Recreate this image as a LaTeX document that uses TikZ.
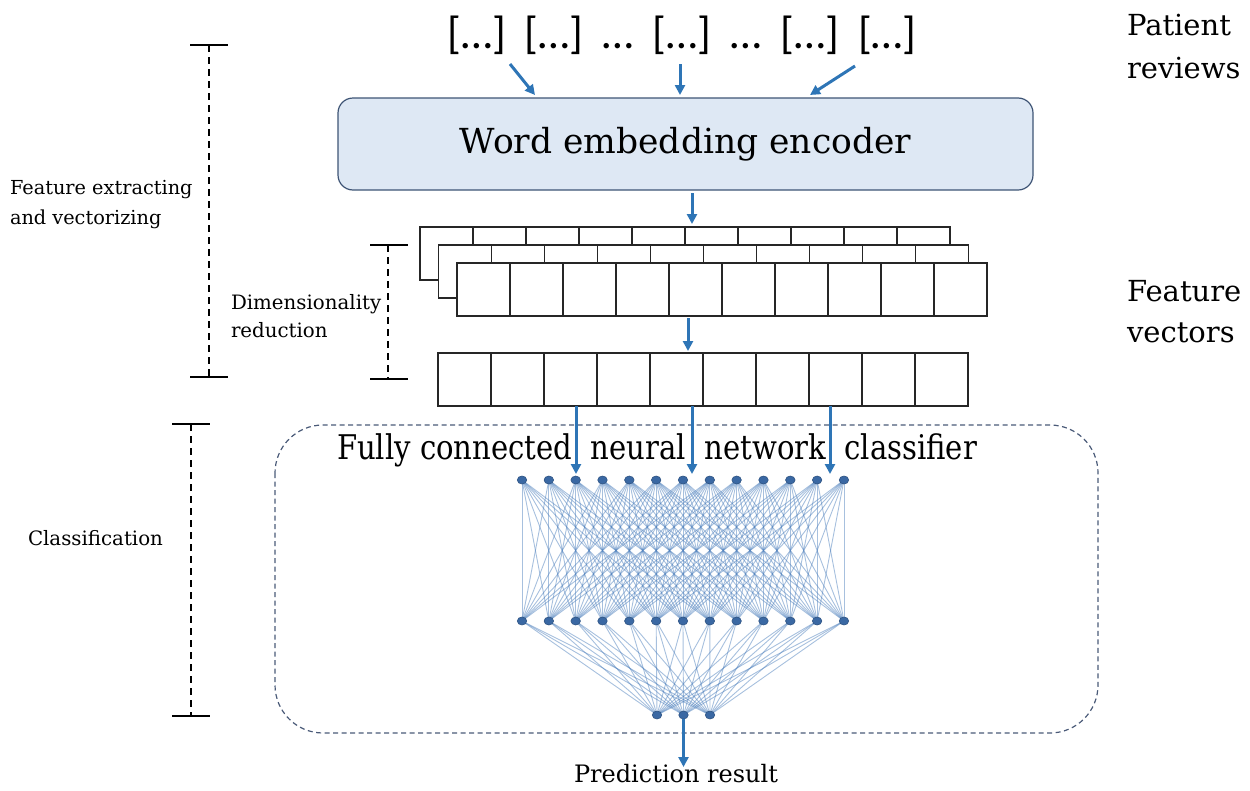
\documentclass[tikz,border=0pt]{standalone}
\usepackage{fontspec}
\newfontfamily\txt{DejaVu Serif}
\newfontfamily\brk{Carlito}
\usetikzlibrary{arrows.meta,shapes.geometric}
\pgfdeclarelayer{background}
\pgfsetlayers{background,main}

\definecolor{flowblue}{HTML}{2E75B6}
\definecolor{encfill}{HTML}{DEE8F4}
\definecolor{encdraw}{HTML}{3E5475}
\definecolor{frame}{HTML}{4A5A78}
\definecolor{netline}{HTML}{4F81BD}
\definecolor{netnode}{HTML}{3A68A3}

\tikzset{
  flow/.style={draw=flowblue, line width=3pt, -{Triangle[length=10pt,width=10pt]}},
  cell/.style={draw=black!85, line width=1.4pt, fill=white, minimum width=53pt,
               minimum height=53pt, inner sep=0pt, outer sep=0pt},
  label/.style={inner sep=0pt, outer sep=0pt, align=left, anchor=west},
  span/.style={line width=1.8pt, dash pattern=on 7pt off 5pt},
  tick/.style={line width=2pt},
  neuron/.style={ellipse, fill=netnode, draw=netnode!80!black, line width=.6pt,
                 minimum width=9.5pt, minimum height=8pt, inner sep=0pt},
  edge/.style={draw=netline, opacity=.5, line width=.9pt}
}
\newcommand{\grp}{\hskip 19pt}

\begin{document}
\begin{tikzpicture}[x=1pt,y=-1pt]
\useasboundingbox (0,0) rectangle (1250,790);

% ---- input reviews ----
\node[inner sep=0pt, font={\brk\fontsize{45}{50}\selectfont}] (reviews) at (682,35)
  {[…]\grp[…]\grp…\grp[…]\grp…\grp[…]\grp[…]};
\node[label, font={\txt\fontsize{29}{43}\selectfont}] (revlab) at (1127,47)
  {Patient\\reviews};

% ---- encoder ----
\node[draw=encdraw, fill=encfill, line width=1.2pt, rounded corners=15pt,
      minimum width=695pt, minimum height=92pt, inner sep=0pt,
      font={\txt\fontsize{34.5}{40}\selectfont}] (enc) at (685.5,144)
  {Word embedding encoder};

\coordinate (r1) at (510,64);  \coordinate (e1) at (535,95);
\coordinate (r2) at (680,64);  \coordinate (e2) at (680,95);
\coordinate (r3) at (855,66);  \coordinate (e3) at (810,95);
\draw[flow] (r1) -- (e1);
\draw[flow] (r2) -- (e2);
\draw[flow] (r3) -- (e3);

% ---- stacked feature maps ----
\foreach \l/\xo/\yo in {a/420/227, b/438.5/245, c/457/263}{
  \foreach \i in {1,...,10}{
    \node[cell] (\l\i) at ({\xo+53*(\i-0.5)},{\yo+26.5}) {};
  }
}
\coordinate (encout) at (692,193);
\coordinate (stackin) at (692,224);
\draw[flow] (encout) -- (stackin);

\node[label, font={\txt\fontsize{29}{41}\selectfont}] (featlab) at (1127,312)
  {Feature\\vectors};

% ---- reduced vector ----
\foreach \i in {1,...,10}{
  \node[cell] (v\i) at ({438+53*(\i-0.5)},379.5) {};
}
\coordinate (stackout) at (688,318);
\coordinate (vecin) at (688,351);
\draw[flow] (stackout) -- (vecin);

% ---- classifier frame ----
\draw[frame, line width=1.2pt, dash pattern=on 5pt off 3.5pt, rounded corners=48pt]
  (275,425) rectangle (1098,733);
\node[inner sep=0pt, font={\txt\fontsize{34}{40}\selectfont}] (fctitle) at (657,450)
  {\scalebox{0.855}[1]{Fully connected\ \ neural\ \ network\ \ classifier}};

% ---- network ----
\foreach \i in {0,...,12}{
  \node[neuron] (t\i) at ({522+26.83*\i},480) {};
  \node[neuron] (m\i) at ({522+26.83*\i},621) {};
}
\node[neuron] (o0) at (657,715) {};
\node[neuron] (o1) at (683.5,715) {};
\node[neuron] (o2) at (710,715) {};

\begin{pgfonlayer}{background}
\foreach \i in {0,...,12}{
  \foreach \j in {0,...,12}{
    \pgfmathtruncatemacro\gap{abs(\i-\j)}
    \ifnum\gap<8 \draw[edge] (t\i.center) -- (m\j.center); \fi
  }
  \foreach \k in {0,1,2}{
    \draw[edge] (m\i.center) -- (o\k.center);
  }
}
\end{pgfonlayer}

\coordinate (s3) at (576,406);  \coordinate (n3) at (576,474);
\coordinate (s5) at (692,406);  \coordinate (n5) at (692,474);
\coordinate (s8) at (830,406);  \coordinate (n8) at (830,474);
\draw[flow] (s3) -- (n3);
\draw[flow] (s5) -- (n5);
\draw[flow] (s8) -- (n8);

% ---- prediction ----
\coordinate (predin) at (683.5,767);
\draw[flow] (o1.south) -- (predin);
\node[inner sep=0pt, anchor=north, font={\txt\fontsize{24}{28}\selectfont}] (pred) at (676,764)
  {Prediction result};

% ---- stage brackets ----
\draw[span] (209,45) -- (209,377);
\draw[tick] (190,45) -- (228,45);
\draw[tick] (190,377) -- (228,377);
\node[label, font={\txt\fontsize{19.3}{30}\selectfont}] (stage1) at (10,205)
  {Feature extracting\\and vectorizing};

\draw[span] (388,245) -- (388,379);
\draw[tick] (370,245) -- (408,245);
\draw[tick] (370,379) -- (408,379);
\node[label, font={\txt\fontsize{19.8}{28}\selectfont}] (stage2) at (231,316)
  {Dimensionality\\reduction};

\draw[span] (191,424) -- (191,716);
\draw[tick] (172,424) -- (210,424);
\draw[tick] (172,716) -- (210,716);
\node[label, font={\txt\fontsize{19.8}{24}\selectfont}] (stage3) at (28,538)
  {Classification};
\end{tikzpicture}
\end{document}
